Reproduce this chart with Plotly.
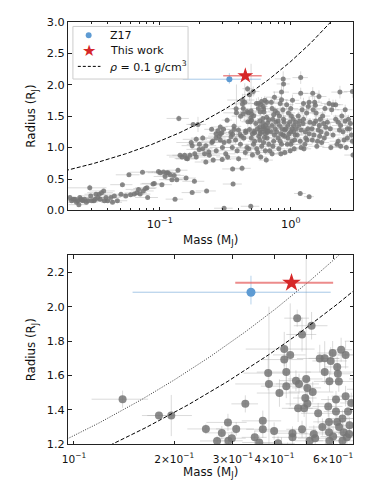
import numpy as np
import plotly.graph_objects as go

# ---------------- data: (mass [MJ], radius [RJ], mass err, radius err) ----------------
low_mass_planets = [
    (0.0207, 0.206, 0.004, 0.03), (0.0213, 0.155, 0.005, 0.02), (0.0220, 0.180, 0.010, 0.02),
    (0.0226, 0.180, 0.006, 0.02), (0.0232, 0.130, 0.005, 0.02), (0.0237, 0.155, 0.006, 0.02),
    (0.0242, 0.093, 0.004, 0.02), (0.0246, 0.206, 0.005, 0.02), (0.0251, 0.180, 0.012, 0.02),
    (0.0255, 0.165, 0.007, 0.02), (0.0261, 0.155, 0.005, 0.02), (0.0267, 0.180, 0.006, 0.02),
    (0.0276, 0.129, 0.006, 0.02), (0.0284, 0.155, 0.005, 0.02), (0.0293, 0.360, 0.010, 0.05),
    (0.0298, 0.232, 0.005, 0.02), (0.0304, 0.155, 0.006, 0.02), (0.0315, 0.155, 0.007, 0.02),
    (0.0323, 0.180, 0.005, 0.02), (0.0327, 0.258, 0.006, 0.03), (0.0337, 0.206, 0.007, 0.02),
    (0.0346, 0.258, 0.006, 0.03), (0.0352, 0.180, 0.007, 0.02), (0.0360, 0.283, 0.008, 0.03),
    (0.0374, 0.310, 0.008, 0.03), (0.0379, 0.155, 0.006, 0.02), (0.0390, 0.206, 0.008, 0.02),
    (0.0401, 0.155, 0.007, 0.02), (0.0425, 0.206, 0.008, 0.02), (0.0437, 0.130, 0.008, 0.02),
    (0.0451, 0.232, 0.010, 0.02), (0.0476, 0.155, 0.009, 0.02), (0.0507, 0.258, 0.010, 0.03),
    (0.0520, 0.410, 0.010, 0.03), (0.0551, 0.232, 0.010, 0.02), (0.0583, 0.567, 0.012, 0.03),
    (0.0600, 0.250, 0.012, 0.03), (0.0640, 0.260, 0.012, 0.03), (0.0670, 0.280, 0.013, 0.03),
    (0.0690, 0.335, 0.014, 0.03), (0.0710, 0.260, 0.014, 0.03), (0.0740, 0.608, 0.015, 0.03),
    (0.0750, 0.310, 0.015, 0.03), (0.0780, 0.350, 0.015, 0.03), (0.0800, 0.360, 0.015, 0.03),
    (0.0810, 0.206, 0.016, 0.02), (0.0890, 0.420, 0.018, 0.03), (0.0910, 0.430, 0.018, 0.03),
    (0.0980, 0.620, 0.020, 0.03), (0.1010, 0.600, 0.020, 0.03), (0.1040, 0.410, 0.020, 0.03),
    (0.1070, 0.610, 0.020, 0.03), (0.1100, 0.540, 0.020, 0.04), (0.1130, 0.600, 0.022, 0.03),
    (0.1160, 0.600, 0.022, 0.03), (0.1200, 0.567, 0.024, 0.03), (0.1240, 0.490, 0.025, 0.03),
    (0.1290, 0.557, 0.025, 0.03), (0.1310, 0.180, 0.020, 0.02), (0.1350, 0.490, 0.025, 0.03),
    (0.1380, 0.640, 0.025, 0.04), (0.1430, 0.877, 0.030, 0.04), (0.1480, 0.850, 0.030, 0.04),
    (0.1550, 0.877, 0.030, 0.04), (0.1600, 0.824, 0.030, 0.04), (0.1590, 0.515, 0.030, 0.03),
    (0.1630, 0.820, 0.030, 0.04),
]

saturn_mass_planets = [
    (0.170, 0.876, 0.03, 0.05), (0.174, 1.080, 0.04, 0.05), (0.177, 1.030, 0.03, 0.05),
    (0.177, 0.284, 0.03, 0.03), (0.184, 0.464, 0.035, 0.04), (0.185, 0.900, 0.04, 0.05),
    (0.190, 1.130, 0.04, 0.05), (0.190, 0.850, 0.04, 0.04), (0.200, 0.970, 0.04, 0.05),
    (0.201, 1.050, 0.04, 0.05), (0.213, 1.150, 0.04, 0.05), (0.213, 0.980, 0.04, 0.04),
    (0.220, 0.900, 0.04, 0.04), (0.225, 1.030, 0.045, 0.05), (0.225, 0.770, 0.04, 0.04),
    (0.228, 0.310, 0.04, 0.03), (0.237, 0.930, 0.05, 0.05), (0.239, 0.876, 0.05, 0.04),
    (0.250, 1.080, 0.05, 0.05), (0.254, 1.100, 0.05, 0.05), (0.256, 0.800, 0.05, 0.04),
    (0.269, 1.150, 0.05, 0.05), (0.270, 0.950, 0.05, 0.05), (0.284, 1.180, 0.05, 0.05),
    (0.290, 1.120, 0.05, 0.05), (0.300, 0.810, 0.05, 0.04), (0.301, 1.000, 0.06, 0.05),
    (0.310, 1.080, 0.06, 0.05), (0.310, 0.036, 0.05, 0.02), (0.319, 0.900, 0.06, 0.05),
    (0.330, 0.850, 0.06, 0.05), (0.338, 1.100, 0.06, 0.05), (0.350, 1.170, 0.06, 0.06),
    (0.358, 1.000, 0.06, 0.05), (0.360, 0.660, 0.06, 0.04), (0.363, 0.420, 0.06, 0.04),
    (0.379, 1.120, 0.07, 0.06), (0.390, 0.950, 0.07, 0.05), (0.400, 0.820, 0.07, 0.05),
    (0.413, 1.050, 0.07, 0.06), (0.420, 1.180, 0.07, 0.06), (0.425, 0.670, 0.07, 0.05),
    (0.438, 1.150, 0.07, 0.06), (0.450, 0.920, 0.08, 0.06), (0.463, 1.000, 0.08, 0.06),
    (0.477, 0.980, 0.08, 0.06), (0.495, 0.067, 0.08, 0.02),
]

inflated_planets = [
    (0.140, 1.462, 0.027, 0.05), (0.180, 1.367, 0.020, 0.02), (0.196, 1.367, 0.030, 0.12),
    (0.249, 1.289, 0.030, 0.03), (0.269, 1.219, 0.030, 0.03), (0.278, 1.266, 0.030, 0.04),
    (0.290, 1.327, 0.040, 0.05), (0.291, 1.220, 0.030, 0.04), (0.298, 1.235, 0.030, 0.04),
    (0.307, 1.289, 0.040, 0.04), (0.327, 1.435, 0.030, 0.05), (0.349, 1.240, 0.030, 0.04),
    (0.369, 1.336, 0.050, 0.06), (0.369, 1.287, 0.040, 0.05), (0.383, 1.614, 0.060, 0.10),
    (0.385, 1.551, 0.080, 0.45), (0.399, 1.277, 0.050, 0.05), (0.414, 1.498, 0.060, 0.08),
    (0.428, 1.754, 0.100, 0.10), (0.428, 1.693, 0.060, 0.08), (0.434, 1.620, 0.080, 0.08),
    (0.434, 1.538, 0.070, 0.07), (0.446, 1.720, 0.050, 0.30), (0.453, 1.264, 0.050, 0.04),
    (0.453, 1.240, 0.060, 0.05), (0.464, 1.570, 0.050, 0.06), (0.468, 1.934, 0.040, 0.05),
    (0.471, 1.409, 0.050, 0.08), (0.474, 1.551, 0.070, 0.06), (0.484, 1.839, 0.050, 0.10),
    (0.484, 1.287, 0.050, 0.05), (0.491, 1.409, 0.050, 0.05), (0.495, 1.469, 0.040, 0.06),
    (0.498, 1.580, 0.060, 0.75), (0.502, 1.528, 0.050, 0.06), (0.502, 1.435, 0.070, 0.05),
    (0.510, 1.220, 0.050, 0.04), (0.517, 1.890, 0.060, 0.08), (0.521, 1.504, 0.080, 0.06),
    (0.525, 1.260, 0.050, 0.05), (0.530, 1.235, 0.060, 0.05), (0.541, 1.380, 0.060, 0.06),
    (0.547, 1.699, 0.080, 0.08), (0.557, 1.300, 0.050, 0.05), (0.566, 1.700, 0.060, 0.10),
    (0.566, 1.620, 0.070, 0.07), (0.580, 1.420, 0.060, 0.06), (0.583, 1.330, 0.060, 0.05),
    (0.583, 1.270, 0.070, 0.05), (0.585, 1.566, 0.060, 0.06), (0.590, 1.685, 0.070, 0.08),
    (0.598, 1.731, 0.060, 0.07), (0.612, 1.460, 0.060, 0.05), (0.617, 1.650, 0.050, 0.06),
    (0.620, 1.610, 0.060, 0.06), (0.624, 1.565, 0.070, 0.06), (0.634, 1.750, 0.050, 0.07),
    (0.654, 1.720, 0.060, 0.08), (0.654, 1.480, 0.060, 0.06), (0.612, 1.390, 0.050, 0.05),
    (0.617, 1.330, 0.060, 0.05), (0.625, 1.300, 0.050, 0.04), (0.640, 1.350, 0.050, 0.05),
    (0.645, 1.270, 0.060, 0.05), (0.665, 1.390, 0.060, 0.05), (0.672, 1.310, 0.050, 0.05),
    (0.680, 1.440, 0.050, 0.06), (0.660, 1.240, 0.060, 0.05), (0.640, 1.220, 0.050, 0.04),
    (0.600, 1.245, 0.050, 0.05), (0.585, 1.220, 0.050, 0.04), (0.360, 1.210, 0.040, 0.04),
    (0.410, 1.205, 0.050, 0.04), (0.670, 1.260, 0.050, 0.04),
]

jupiter_mass_planets = [
    (0.50, 1.15, 0.06, 0.05), (0.52, 1.05, 0.07, 0.05), (0.53, 1.10, 0.06, 0.06), (0.55, 0.98, 0.08, 0.05),
    (0.56, 0.92, 0.07, 0.05), (0.57, 1.18, 0.06, 0.06), (0.58, 1.12, 0.08, 0.05), (0.59, 0.85, 0.07, 0.05),
    (0.60, 1.02, 0.08, 0.06), (0.51, 0.88, 0.06, 0.05), (0.62, 1.08, 0.07, 0.05), (0.64, 0.95, 0.08, 0.06),
    (0.66, 1.15, 0.08, 0.05), (0.68, 1.05, 0.09, 0.06), (0.69, 0.95, 0.08, 0.05), (0.63, 1.16, 0.07, 0.05),
    (0.65, 0.80, 0.08, 0.05), (0.71, 1.25, 0.08, 0.06), (0.72, 1.35, 0.09, 0.07), (0.73, 1.45, 0.08, 0.06),
    (0.74, 1.10, 0.10, 0.05), (0.75, 1.20, 0.08, 0.06), (0.76, 1.30, 0.09, 0.07), (0.72, 1.62, 0.10, 0.08),
    (0.74, 1.52, 0.08, 0.07), (0.72, 0.90, 0.09, 0.05), (0.77, 1.40, 0.10, 0.06), (0.71, 1.72, 0.09, 0.08),
    (0.75, 1.80, 0.10, 0.09), (0.73, 1.02, 0.08, 0.05), (0.78, 1.25, 0.10, 0.06), (0.76, 1.58, 0.09, 0.07),
    (0.80, 1.15, 0.10, 0.06), (0.82, 1.35, 0.12, 0.07), (0.85, 1.05, 0.10, 0.05), (0.88, 1.45, 0.11, 0.07),
    (0.79, 1.55, 0.10, 0.08), (0.84, 1.22, 0.12, 0.06), (0.86, 1.30, 0.10, 0.06), (0.90, 1.18, 0.12, 0.06),
    (0.81, 0.98, 0.10, 0.05), (0.87, 1.60, 0.12, 0.08), (0.83, 1.70, 0.10, 0.09), (0.89, 1.40, 0.11, 0.07),
    (0.80, 1.42, 0.10, 0.06), (0.875, 2.09, 0.12, 0.12), (0.88, 2.01, 0.10, 0.10), (0.90, 0.92, 0.12, 0.05),
    (0.83, 1.10, 0.11, 0.06), (0.85, 1.88, 0.12, 0.10), (0.90, 1.28, 0.12, 0.06), (0.82, 1.50, 0.10, 0.07),
    (0.87, 1.20, 0.12, 0.06), (0.84, 0.90, 0.11, 0.05), (0.85, 1.76, 0.10, 0.08),
    (0.92, 1.30, 0.12, 0.07), (0.95, 1.15, 0.13, 0.06), (0.98, 1.40, 0.12, 0.07), (1.00, 1.25, 0.14, 0.06),
    (1.02, 1.10, 0.13, 0.06), (1.05, 1.35, 0.14, 0.07), (1.08, 1.20, 0.15, 0.06), (0.96, 1.55, 0.12, 0.08),
    (1.00, 1.62, 0.14, 0.08), (1.04, 1.45, 0.13, 0.07), (0.94, 1.05, 0.12, 0.05), (1.06, 0.98, 0.14, 0.05),
    (1.10, 1.30, 0.15, 0.07), (0.97, 1.22, 0.12, 0.06), (1.01, 1.50, 0.14, 0.07), (1.03, 1.75, 0.13, 0.09),
    (0.93, 1.68, 0.12, 0.08), (1.07, 1.12, 0.14, 0.06), (0.99, 0.95, 0.13, 0.05), (1.09, 1.40, 0.15, 0.07),
    (0.95, 1.35, 0.12, 0.07), (1.05, 1.25, 0.14, 0.06), (1.00, 1.05, 0.13, 0.05), (1.02, 1.30, 0.14, 0.06),
    (1.12, 1.20, 0.15, 0.06), (1.15, 1.35, 0.16, 0.07), (1.18, 1.10, 0.15, 0.06), (1.20, 1.28, 0.17, 0.07),
    (1.25, 1.45, 0.17, 0.07), (1.30, 1.15, 0.18, 0.06), (1.35, 1.30, 0.18, 0.07), (1.38, 1.22, 0.19, 0.06),
    (1.22, 1.60, 0.17, 0.08), (1.28, 1.05, 0.18, 0.05), (1.19, 2.11, 0.16, 0.10), (1.14, 1.50, 0.15, 0.07),
    (1.24, 1.38, 0.17, 0.07), (1.32, 1.55, 0.18, 0.08), (1.26, 0.98, 0.17, 0.05), (1.40, 1.40, 0.20, 0.07),
    (1.19, 1.86, 0.16, 0.09), (1.33, 1.12, 0.18, 0.06), (1.36, 1.65, 0.19, 0.08), (1.20, 1.00, 0.16, 0.05),
    (1.29, 1.25, 0.18, 0.06), (1.17, 1.42, 0.16, 0.07), (1.25, 1.70, 0.17, 0.09), (1.38, 1.72, 0.19, 0.09),
    (1.18, 0.27, 0.12, 0.03), (1.38, 0.22, 0.12, 0.03),
    (1.45, 1.30, 0.20, 0.07), (1.50, 1.20, 0.21, 0.06), (1.55, 1.42, 0.22, 0.07), (1.60, 1.10, 0.22, 0.06),
    (1.65, 1.35, 0.23, 0.07), (1.70, 1.25, 0.24, 0.06), (1.75, 1.50, 0.25, 0.08), (1.80, 1.15, 0.25, 0.06),
    (1.85, 1.32, 0.26, 0.07), (1.48, 1.60, 0.20, 0.08), (1.58, 1.02, 0.22, 0.05), (1.68, 1.45, 0.23, 0.07),
    (1.78, 1.38, 0.25, 0.07), (1.52, 1.72, 0.21, 0.09), (1.62, 1.28, 0.22, 0.06), (1.72, 1.08, 0.24, 0.05),
    (1.88, 1.22, 0.26, 0.06), (1.46, 1.12, 0.20, 0.06), (1.56, 1.55, 0.22, 0.08), (1.82, 1.62, 0.25, 0.08),
    (1.90, 1.40, 0.27, 0.07), (1.66, 1.18, 0.23, 0.06), (1.50, 1.38, 0.21, 0.07), (1.47, 1.86, 0.20, 0.10),
    (1.64, 1.81, 0.23, 0.10), (1.54, 1.67, 0.21, 0.08),
    (2.00, 1.30, 0.28, 0.07), (2.10, 1.20, 0.30, 0.06), (2.20, 1.45, 0.31, 0.07), (2.30, 1.10, 0.32, 0.06),
    (2.40, 1.35, 0.34, 0.07), (2.50, 1.25, 0.35, 0.06), (2.60, 1.42, 0.36, 0.07), (2.70, 1.15, 0.38, 0.06),
    (2.80, 1.30, 0.39, 0.07), (2.90, 1.20, 0.40, 0.06), (2.05, 1.60, 0.29, 0.08), (2.25, 1.05, 0.31, 0.05),
    (2.45, 1.50, 0.34, 0.08), (2.65, 1.00, 0.37, 0.05), (2.85, 1.38, 0.40, 0.07), (2.37, 1.88, 0.33, 0.10),
    (2.35, 1.28, 0.33, 0.06), (2.55, 1.12, 0.36, 0.06), (2.75, 1.45, 0.38, 0.07), (2.95, 1.10, 0.41, 0.06),
    (2.02, 1.00, 0.28, 0.05), (2.95, 1.89, 0.41, 0.10), (2.20, 1.68, 0.31, 0.08), (2.60, 1.60, 0.36, 0.08),
    (2.40, 1.02, 0.34, 0.05), (2.98, 0.88, 0.42, 0.05), (2.70, 1.30, 0.38, 0.07), (2.30, 1.40, 0.32, 0.07),
    (1.96, 1.70, 0.27, 0.08), (2.10, 1.68, 0.29, 0.08),
]

# HAT-P-67 b literature value (Z17) and this work
z17_mass = [0.34]
z17_mass_err_plus = [0.25]
z17_mass_err_minus = [0.19]
z17_radius = [2.085]
z17_radius_err_plus = [0.096]
z17_radius_err_minus = [0.071]

this_mass = [0.45]
this_mass_err_plus = [0.15]
this_mass_err_minus = [0.145]
this_radius = [2.140]
this_radius_err = [0.025]

legend_labels = ["Z17", "This work", "<i>ρ</i> = 0.1 g/cm<sup>3</sup>"]

# constant-density curves (g/cm^3)
rho_dashed = 0.1
rho_dotted = 0.068
MJ_GRAMS = 1.898e30
RJ_CM = 6.9911e9

# ---------------- build ----------------
known = low_mass_planets + saturn_mass_planets + inflated_planets + jupiter_mass_planets
mass, radius, mass_err, radius_err = (list(v) for v in zip(*known))


def radius_at_density(m, rho):
    return (3.0 * np.asarray(m) * MJ_GRAMS / (4.0 * np.pi * rho)) ** (1.0 / 3.0) / RJ_CM


W, H = 376, 497
GREY = "rgba(118,118,118,0.85)"
ERR_GREY = "rgba(165,165,165,0.4)"
BLUE = "#5e9bd3"
RED = "#d62728"
FONT = "DejaVu Sans, Liberation Sans, sans-serif"
TICK_SIZE = 11.3
TITLE_SIZE = 11.8

fig = go.Figure()

panels = [("x", "y", 5, 12, 0.02, 3.0), ("x2", "y2", 8, 14, 0.096, 0.69)]
for xa, ya, msize, starsize, mlo, mhi in panels:
    top = xa == "x"
    fig.add_trace(go.Scatter(
        x=mass, y=radius, mode="markers", xaxis=xa, yaxis=ya, showlegend=False,
        marker=dict(color=GREY, size=msize, line=dict(width=0)),
        error_x=dict(type="data", array=mass_err, color=ERR_GREY, thickness=1, width=0),
        error_y=dict(type="data", array=radius_err, color=ERR_GREY, thickness=1, width=0),
        hoverinfo="skip"))
    curve_m = np.logspace(np.log10(mlo * 0.95), np.log10(mhi * 1.05), 300)
    fig.add_trace(go.Scatter(
        x=curve_m, y=radius_at_density(curve_m, rho_dashed), mode="lines",
        xaxis=xa, yaxis=ya, line=dict(color="black", width=1, dash="4px,2px"),
        showlegend=False))
    if not top:
        fig.add_trace(go.Scatter(
            x=curve_m, y=radius_at_density(curve_m, rho_dotted), mode="lines",
            xaxis=xa, yaxis=ya, line=dict(color="black", width=0.8, dash="1px,1.5px"),
            showlegend=False))
    fig.add_trace(go.Scatter(
        x=z17_mass, y=z17_radius, mode="markers", xaxis=xa, yaxis=ya, showlegend=False,
        marker=dict(color=BLUE, size=msize + 1),
        error_x=dict(type="data", symmetric=False, array=z17_mass_err_plus,
                     arrayminus=z17_mass_err_minus, color="rgba(94,155,211,0.55)", thickness=1, width=0),
        error_y=dict(type="data", symmetric=False, array=z17_radius_err_plus,
                     arrayminus=z17_radius_err_minus, color="rgba(94,155,211,0.45)", thickness=1, width=0)))
    fig.add_trace(go.Scatter(
        x=this_mass, y=this_radius, mode="markers", xaxis=xa, yaxis=ya, showlegend=False,
        marker=dict(color=RED, size=starsize, symbol="star", line=dict(width=0)),
        error_x=dict(type="data", symmetric=False, array=this_mass_err_plus,
                     arrayminus=this_mass_err_minus, color="rgba(228,90,90,0.7)",
                     thickness=1.5 if top else 2, width=0),
        error_y=dict(type="data", array=this_radius_err, color="rgba(228,90,90,0.7)",
                     thickness=1.5, width=0)))

axis_common = dict(showline=True, linecolor="#222", linewidth=1, mirror="ticks",
                   ticks="inside", tickcolor="#222", ticklen=3.5, showgrid=False,
                   zeroline=False, tickfont=dict(family=FONT, size=TICK_SIZE, color="#111"),
                   title_font=dict(family=FONT, size=TITLE_SIZE, color="#111"))

top_minor = [0.02, 0.03, 0.04, 0.05, 0.06, 0.07, 0.08, 0.09,
             0.2, 0.3, 0.4, 0.5, 0.6, 0.7, 0.8, 0.9, 2, 3]


def px(x):
    return x / W


def py(y):
    return 1 - y / H


# hand-made legend (matplotlib-like compact box)
shapes = [
    dict(type="rect", xref="paper", yref="paper", x0=px(68), x1=px(185), y0=py(75), y1=py(21),
         line=dict(color="#cccccc", width=1), fillcolor="white", layer="above"),
    dict(type="circle", xref="paper", yref="paper", x0=px(81), x1=px(87), y0=py(33), y1=py(27),
         line=dict(width=0), fillcolor=BLUE, layer="above"),
    dict(type="line", xref="paper", yref="paper", x0=px(73), x1=px(96), y0=py(62), y1=py(62),
         line=dict(color="black", width=1, dash="3px,2px"), layer="above"),
]
annotations = [
    dict(xref="paper", yref="paper", x=px(84.5), y=py(46), text="★", showarrow=False,
         font=dict(family="DejaVu Sans", size=16, color=RED), xanchor="center", yanchor="middle"),
]
for label, ypix in zip(legend_labels, [30, 46, 62]):
    annotations.append(dict(xref="paper", yref="paper", x=px(104), y=py(ypix), text=label,
                            showarrow=False, xanchor="left", yanchor="middle",
                            font=dict(family=FONT, size=11, color="#111")))

fig.update_layout(
    width=W, height=H, autosize=False,
    margin=dict(l=0, r=0, t=0, b=0),
    paper_bgcolor="white", plot_bgcolor="white",
    font=dict(family=FONT, size=TICK_SIZE, color="#111"),
    showlegend=False,
    shapes=shapes, annotations=annotations,
    xaxis=dict(axis_common, type="log", range=[np.log10(0.02), np.log10(3.0)],
               domain=[0.1676, 0.9388], anchor="y", ticklabelstandoff=3,
               tickvals=[0.1, 1], ticktext=["10<sup>−1</sup>", "10<sup>0</sup>"],
               minor=dict(tickvals=top_minor, ticks="inside", ticklen=2, tickcolor="#222"),
               title=dict(text="Mass (M<sub>J</sub>)", standoff=5)),
    yaxis=dict(axis_common, range=[0, 3.0], domain=[0.5775, 0.9678], anchor="x",
               tickvals=[0, 0.5, 1.0, 1.5, 2.0, 2.5, 3.0], tickformat=".1f",
               title=dict(text="Radius (R<sub>J</sub>)", standoff=8)),
    xaxis2=dict(axis_common, type="log", range=[np.log10(0.096), np.log10(0.69)],
                domain=[0.1676, 0.9388], anchor="y2", tickangle=0, ticklabelstandoff=5,
                tickfont=dict(family=FONT, size=10.6, color="#111"),
                tickvals=[0.1, 0.2, 0.3, 0.4, 0.5, 0.6],
                ticktext=["10<sup>−1</sup>", "2×10<sup>−1</sup>", "3×10<sup>−1</sup>",
                          "4×10<sup>−1</sup>", " ", "6×10<sup>−1</sup>"],
                title=dict(text="Mass (M<sub>J</sub>)", standoff=3)),
    yaxis2=dict(axis_common, range=[1.2, 2.3], domain=[0.0946, 0.4849], anchor="x2",
                tickvals=[1.2, 1.4, 1.6, 1.8, 2.0, 2.2], tickformat=".1f",
                title=dict(text="Radius (R<sub>J</sub>)", standoff=8)),
)

fig.write_html(
    "out.html",
    config={"displayModeBar": False},
    post_script=("document.documentElement.style.margin='0';document.body.style.margin='0';"
                 "document.body.style.padding='0';document.documentElement.style.overflow='hidden';"
                 "document.body.style.overflow='hidden';"),
)
